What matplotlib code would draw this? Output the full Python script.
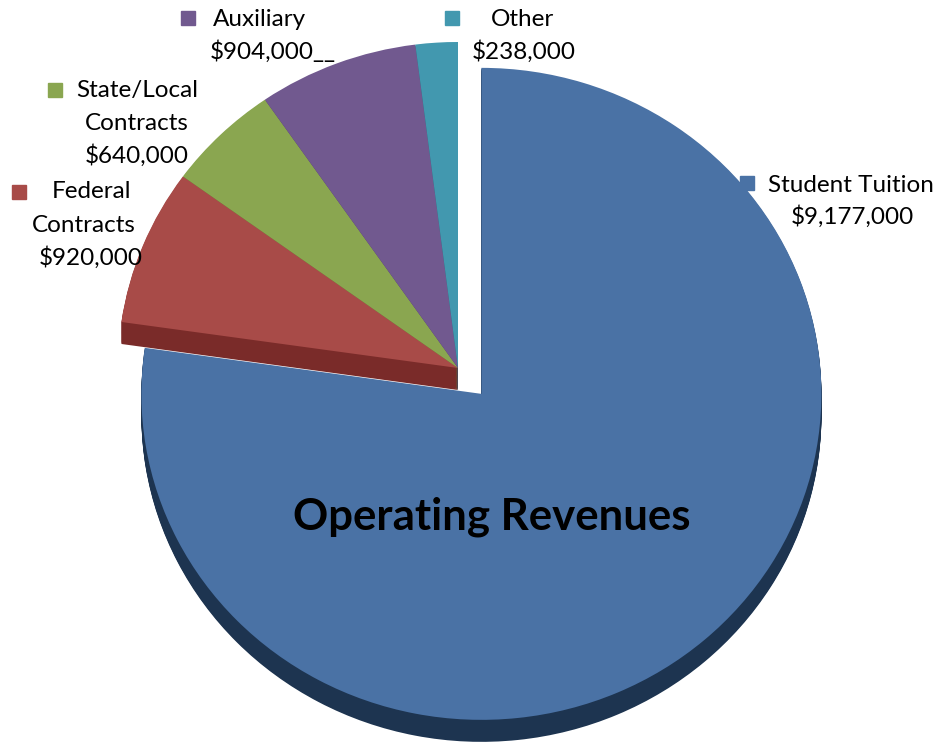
import numpy as np
import matplotlib.pyplot as plt
from matplotlib.patches import Rectangle

# data
categories = ["Student Tuition", "Federal Contracts", "State/Local Contracts", "Auxiliary", "Other"]
label_names = ["Student Tuition", "Federal\nContracts", "State/Local\nContracts", "Auxiliary", "Other"]
revenues = [9177000, 920000, 640000, 904000, 238000]
value_suffix = ["", "", "", "__", ""]
title = "Operating Revenues"

colors = ["#4A72A5", "#A84B48", "#8AA650", "#71598F", "#4298AF"]
side_colors = ["#1D3450", "#7A2B29", "#5E7333", "#4D3C63", "#2C6878"]
explode = [0.105, 0, 0, 0, 0]

W, H = 941, 747
fig = plt.figure(figsize=(W / 100, H / 100), dpi=100)
ax = fig.add_axes([0, 0, 1, 1])

# pie centre / radii in pixels (y from top)
cx, cy = 458, 368
rx, ry = 340, 326
depth = 22 / ry

offsets = np.linspace(depth, 0, 25)
for off in offsets:
    top = off == 0
    wedges, _ = ax.pie(revenues, explode=explode,
                       colors=colors if top else side_colors,
                       startangle=90, counterclock=False,
                       center=(0, -off), radius=1,
                       wedgeprops=dict(linewidth=0))
    for i, w in enumerate(wedges):
        w.set_zorder((2 if top else 1) + (0 if i == 0 else 2))

ax.set_aspect('auto')
ax.set_xlim(-cx / rx, (W - cx) / rx)
ax.set_ylim(-(H - cy) / ry, cy / ry)
ax.axis('off')

font = "Lato"
fs = 17.5

# label layout: square top-left (px), then centre of each line (px)
layout = [
    ((740, 176), [(851, 185), (852, 217)]),
    ((12, 185), [(92, 192), (84, 226), (91, 258)]),
    ((48, 83), [(137, 90), (137, 124), (137, 156)]),
    ((181, 11), [(259, 20), (273, 52)]),
    ((445, 11), [(523, 20), (524, 52)]),
]

for i, (sq, pos) in enumerate(layout):
    lines = label_names[i].split("\n") + ["${:,}".format(revenues[i]) + value_suffix[i]]
    fig.patches.append(Rectangle((sq[0] / W, 1 - (sq[1] + 14) / H), 14 / W, 14 / H,
                                 transform=fig.transFigure, color=colors[i]))
    for line, (px, py) in zip(lines, pos):
        fig.text(px / W, 1 - py / H, line, ha='center', va='center',
                 fontsize=fs, family=font, color='black')

fig.text(492 / W, 1 - 517 / H, title, ha='center', va='center',
         fontsize=31.5, fontweight='bold', family=font, color='black')

fig.savefig("out.png", dpi=100)
